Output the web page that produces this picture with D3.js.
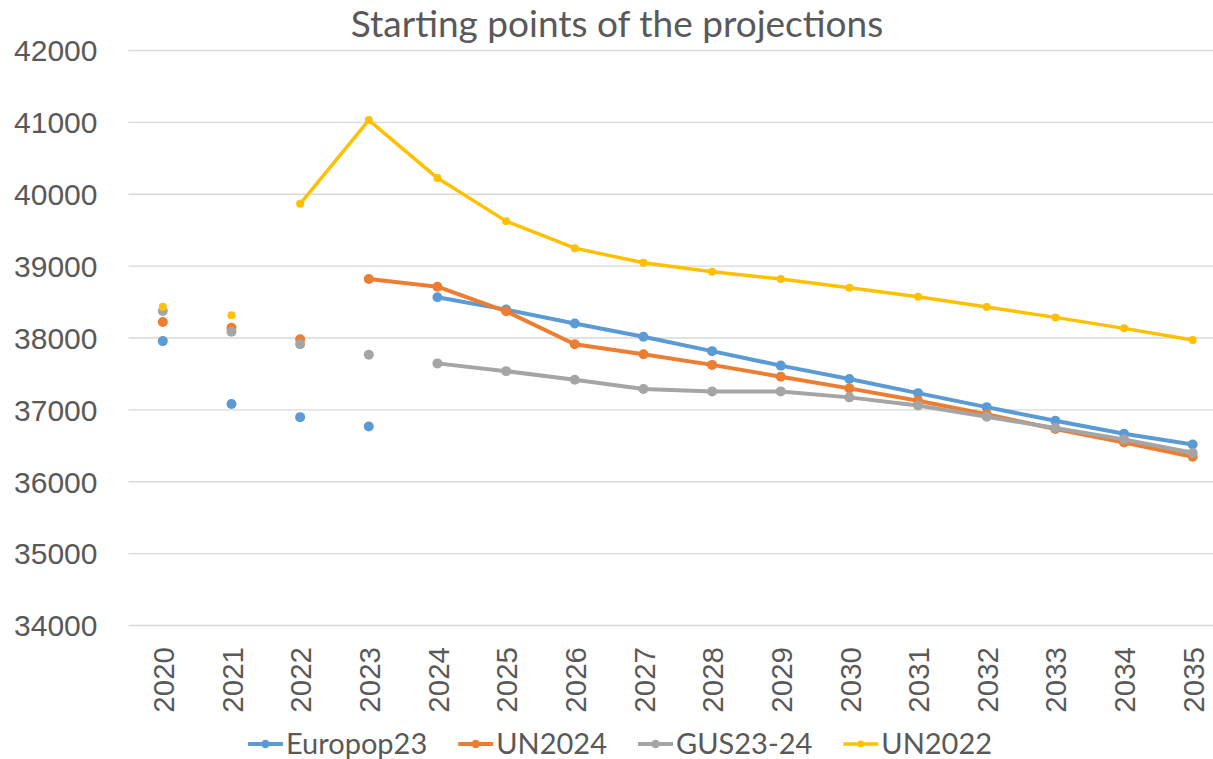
<!DOCTYPE html>
<html>
<head>
<meta charset="utf-8">
<script src="https://cdn.jsdelivr.net/npm/d3@7"></script>
<style>
  body { margin: 0; background: #fff; }
  svg { display: block; font-family: Lato, "Open Sans", sans-serif; }
</style>
</head>
<body>
<svg width="1213" height="759"></svg>
<script>
const width = 1213
const height = 759

const years = ["2020", "2021", "2022", "2023", "2024", "2025", "2026", "2027",
  "2028", "2029", "2030", "2031", "2032", "2033", "2034", "2035"]
const yTicks = [34000, 35000, 36000, 37000, 38000, 39000, 40000, 41000, 42000]

// lone dots before each projection starts
const europop23Base = [37950, 37074, 36892, 36762, null, null, null, null, null, null, null, null, null, null, null, null]
const un2024Base    = [38215, 38136, 37975, null, null, null, null, null, null, null, null, null, null, null, null, null]
const gus2324Base   = [38368, 38080, 37905, 37761, null, null, null, null, null, null, null, null, null, null, null, null]
const un2022Base    = [38428, 38308, null, null, null, null, null, null, null, null, null, null, null, null, null, null]

// the projections themselves
const europop23 = [null, null, null, null, 38559, 38388, 38195, 38010, 37810, 37609, 37422, 37226, 37031, 36842, 36660, 36512]
const un2024    = [null, null, null, 38814, 38707, 38365, 37907, 37768, 37619, 37455, 37292, 37119, 36931, 36726, 36540, 36340]
const gus2324   = [null, null, null, null, 37640, 37532, 37412, 37283, 37250, 37250, 37167, 37054, 36898, 36740, 36582, 36396]
const un2022    = [null, null, 39860, 41025, 40218, 39619, 39243, 39040, 38915, 38813, 38692, 38567, 38423, 38280, 38127, 37964]

const series = [
  {name: "Europop23", color: "#5B9BD5", base: europop23Base, proj: europop23, sw: 4, r: 5},
  {name: "UN2024", color: "#ED7D31", base: un2024Base, proj: un2024, sw: 4, r: 5},
  {name: "GUS23-24", color: "#A5A5A5", base: gus2324Base, proj: gus2324, sw: 4, r: 5},
  {name: "UN2022", color: "#FFC000", base: un2022Base, proj: un2022, sw: 3.5, r: 4}
]

const textColor = "#595959"
const plotLeft = 128.5
const plotRight = 1227
const plotTop = 50
const plotBottom = 625

const svg = d3.select("svg")

svg.append("rect").attr("width", width).attr("height", height).attr("fill", "#fff")

const x = d3.scalePoint()
  .domain(years)
  .range([plotLeft, plotRight])
  .padding(0.5)

const y = d3.scaleLinear()
  .domain([34000, 42000])
  .range([plotBottom, plotTop])

// gridlines + y labels
const yAxis = svg.append("g")
  .attr("transform", `translate(${plotLeft},0)`)
  .call(d3.axisLeft(y).tickValues(yTicks).tickFormat(d3.format("d"))
    .tickSize(-(plotRight - plotLeft)).tickPadding(31))

yAxis.select(".domain").remove()
yAxis.selectAll(".tick line").attr("stroke", "#D9D9D9").attr("stroke-width", 1.3)
yAxis.selectAll(".tick text")
  .attr("fill", textColor)
  .attr("font-size", 30)
  .attr("dy", "0.36em")

// x labels, rotated
const xAxis = svg.append("g")
  .attr("transform", `translate(0,${plotBottom})`)
  .call(d3.axisBottom(x).tickSize(0))

xAxis.select(".domain").remove()
xAxis.selectAll(".tick text")
  .attr("fill", textColor)
  .attr("font-size", 29.5)
  .attr("transform", "rotate(-90)")
  .attr("x", -22)
  .attr("y", 0)
  .attr("dy", "0.36em")
  .style("text-anchor", "end")

const line = d3.line()
  .defined(d => d != null)
  .x((d, i) => x(years[i]))
  .y(d => y(d))

series.forEach(s => {
  const g = svg.append("g")

  g.append("path")
    .datum(s.proj)
    .attr("fill", "none")
    .attr("stroke", s.color)
    .attr("stroke-width", s.sw)
    .attr("stroke-linejoin", "round")
    .attr("d", line)

  const pts = s.proj.map((v, i) => ({v, i})).filter(d => d.v != null)
    .concat(s.base.map((v, i) => ({v, i})).filter(d => d.v != null))

  g.selectAll("circle")
    .data(pts)
    .join("circle")
    .attr("cx", d => x(years[d.i]))
    .attr("cy", d => y(d.v))
    .attr("r", s.r)
    .attr("fill", s.color)
})

// title
svg.append("text")
  .attr("x", 617)
  .attr("y", 37)
  .attr("text-anchor", "middle")
  .attr("fill", textColor)
  .attr("font-size", 37)
  .text("Starting points of the projections")

// legend
const legend = svg.append("g")
let lx = 0
series.forEach(s => {
  const item = legend.append("g").attr("transform", `translate(${lx},0)`)
  item.append("line")
    .attr("x1", 0).attr("x2", 35)
    .attr("y1", 744).attr("y2", 744)
    .attr("stroke", s.color)
    .attr("stroke-width", s.sw)
  item.append("circle")
    .attr("cx", 17.5).attr("cy", 744)
    .attr("r", s.r * 0.85)
    .attr("fill", s.color)
  const t = item.append("text")
    .attr("x", 38)
    .attr("y", 754)
    .attr("fill", textColor)
    .attr("font-size", 29)
    .text(s.name)
  lx += 38 + t.node().getComputedTextLength() + 31
})
const legendW = lx - 31
legend.attr("transform", `translate(${620 - legendW / 2},0)`)
</script>
</body>
</html>
